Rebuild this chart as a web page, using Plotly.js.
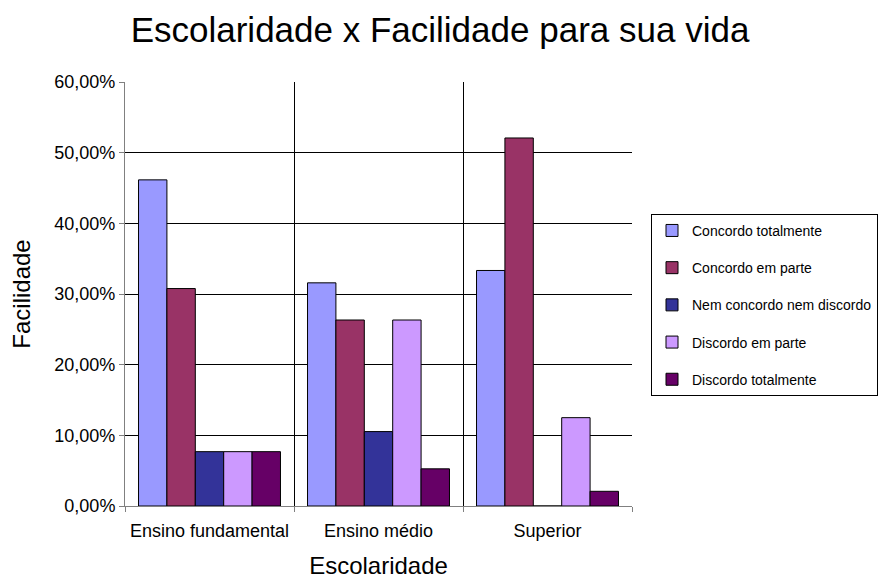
<!DOCTYPE html>
<html>
<head>
<meta charset="utf-8">
<script src="https://cdn.plot.ly/plotly-3.0.1.min.js"></script>
<style>html,body{margin:0;padding:0;background:#fff;}#chart{width:880px;height:586px;}</style>
</head>
<body>
<div id="chart"></div>
<script>
const categories = ["Ensino fundamental", "Ensino médio", "Superior"];
const seriesNames = ["Concordo totalmente", "Concordo em parte", "Nem concordo nem discordo", "Discordo em parte", "Discordo totalmente"];
const concordoTotalmente = [0.4615, 0.3158, 0.3333];
const concordoEmParte = [0.3077, 0.2632, 0.5208];
const nemConcordoNemDiscordo = [0.0769, 0.1053, 0];
const discordoEmParte = [0.0769, 0.2632, 0.125];
const discordoTotalmente = [0.0769, 0.0526, 0.0208];
const seriesValues = [concordoTotalmente, concordoEmParte, nemConcordoNemDiscordo, discordoEmParte, discordoTotalmente];
const colors = ["#9999FF", "#993366", "#333399", "#CC99FF", "#660066"];

const traces = seriesNames.map((name, i) => ({
  type: "bar",
  name: name,
  x: categories,
  y: seriesValues[i],
  legendgroup: "g" + i,
  marker: {color: colors[i], line: {color: "#000000", width: 1}},
  hoverinfo: "skip"
}));

const layout = {
  width: 880,
  height: 586,
  margin: {l: 125, r: 248, t: 82, b: 80, autoexpand: false},
  paper_bgcolor: "#ffffff",
  plot_bgcolor: "#ffffff",
  separators: ",.",
  font: {family: "Liberation Sans, Arial, sans-serif", color: "#000000"},
  title: {
    text: "Escolaridade x Facilidade para sua vida",
    font: {size: 35, color: "#000000"},
    x: 0.5, xref: "container", xanchor: "center",
    y: 1, yref: "container", yanchor: "top", pad: {t: 17}
  },
  barmode: "group",
  bargap: 0.16,
  bargroupgap: 0,
  xaxis: {
    type: "category",
    tickson: "boundaries",
    ticks: "outside",
    ticklen: 5,
    tickcolor: "#808080",
    tickangle: 0,
    ticklabelstandoff: 8,
    showgrid: true,
    gridcolor: "#000000",
    gridwidth: 1,
    showline: true,
    linecolor: "#808080",
    linewidth: 1,
    automargin: false,
    tickfont: {size: 18},
    title: {text: "Escolaridade", font: {size: 24}, standoff: 17}
  },
  yaxis: {
    range: [0, 0.6],
    dtick: 0.1,
    tick0: 0,
    tickformat: ".2%",
    ticks: "outside",
    ticklen: 5,
    tickcolor: "#808080",
    showgrid: true,
    gridcolor: "#000000",
    gridwidth: 1,
    zeroline: false,
    showline: true,
    linecolor: "#808080",
    linewidth: 1,
    automargin: false,
    tickfont: {size: 18},
    title: {text: "Facilidade", font: {size: 24}, standoff: 16}
  },
  showlegend: true,
  legend: {
    x: 1.0375, xanchor: "left",
    y: 0.689, yanchor: "top",
    bgcolor: "#ffffff",
    bordercolor: "#000000",
    borderwidth: 1,
    font: {family: "Liberation Sans, Arial, sans-serif", size: 14, color: "#000000"},
    traceorder: "grouped",
    tracegroupgap: 16,
    itemwidth: 30
  }
};

Plotly.newPlot("chart", traces, layout, {displayModeBar: false, staticPlot: true});
</script>
</body>
</html>
